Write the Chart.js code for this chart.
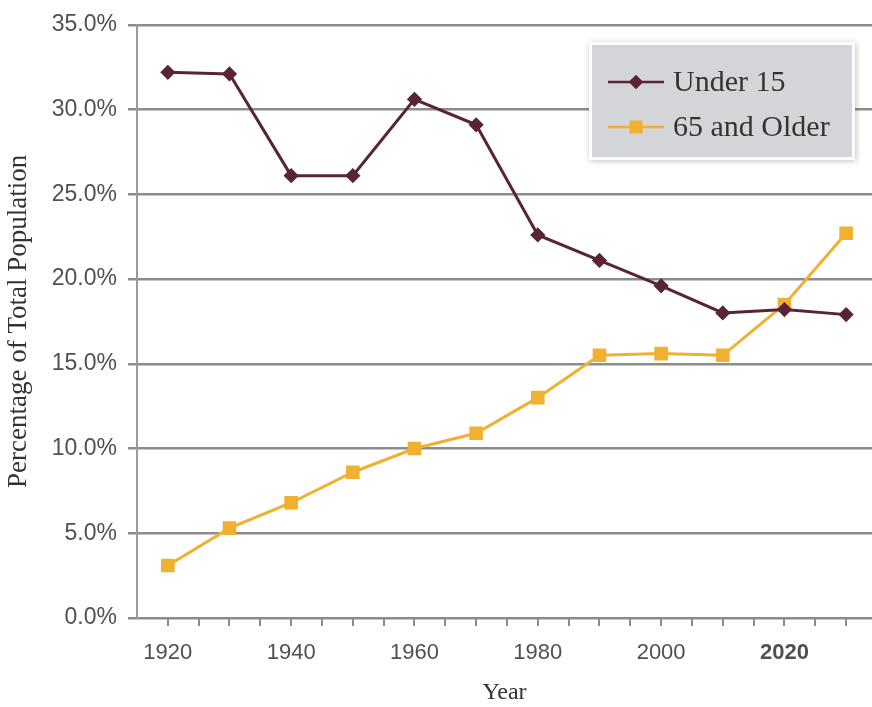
<!DOCTYPE html>
<html>

<head>
  <title>Population by Age Group</title>
  <script src="https://cdn.jsdelivr.net/npm/chart.js"></script>
  <style>
    body {
      margin: 0;
      background: #ffffff;
    }

    .chart-container {
      width: 872px;
      height: 707px;
    }
  </style>
</head>

<body>
  <div class="chart-container">
    <canvas id="chart" width="872" height="707"></canvas>
  </div>
  <script>
    const years = [1920, 1930, 1940, 1950, 1960, 1970, 1980, 1990, 2000, 2010, 2020, 2030];
    const under15 = [32.2, 32.1, 26.1, 26.1, 30.6, 29.1, 22.6, 21.1, 19.6, 18.0, 18.2, 17.9];
    const olderThan65 = [3.1, 5.3, 6.8, 8.6, 10.0, 10.9, 13.0, 15.5, 15.6, 15.5, 18.5, 22.7];
    const tickYears = [1920, 1925, 1930, 1935, 1940, 1945, 1950, 1955, 1960, 1965, 1970, 1975,
      1980, 1985, 1990, 1995, 2000, 2005, 2010, 2015, 2020, 2025, 2030];
    const labelYears = [1920, 1940, 1960, 1980, 2000, 2020];
    const boldYear = 2020;

    const maroon = '#5a2438';
    const amber = '#f0b030';
    const serif = '"Liberation Serif", "DejaVu Serif", serif';
    const sans = '"Liberation Sans", Arial, sans-serif';

    // legend box drawn inside the plot, like the original
    const boxLegend = {
      id: 'boxLegend',
      afterDatasetsDraw(chart) {
        const ctx = chart.ctx;
        const x = 592, y = 45, w = 260, h = 112;
        ctx.save();
        ctx.shadowColor = 'rgba(0,0,0,0.25)';
        ctx.shadowBlur = 6;
        ctx.shadowOffsetX = 1;
        ctx.shadowOffsetY = 1;
        ctx.fillStyle = '#ffffff';
        ctx.fillRect(x - 3, y - 3, w + 6, h + 6);
        ctx.restore();
        ctx.save();
        ctx.fillStyle = '#d3d5d8';
        ctx.fillRect(x, y, w, h);
        ctx.font = '30px ' + serif;
        ctx.textBaseline = 'middle';
        chart.data.datasets.forEach((ds, i) => {
          const ly = y + 37 + i * 45;
          ctx.strokeStyle = ds.borderColor;
          ctx.lineWidth = 2.5;
          ctx.beginPath();
          ctx.moveTo(x + 16, ly);
          ctx.lineTo(x + 72, ly);
          ctx.stroke();
          Chart.helpers.drawPoint(ctx, {
            pointStyle: ds.pointStyle,
            radius: ds.pointRadius,
            borderWidth: 1
          }, x + 44, ly);
          ctx.fillStyle = ds.borderColor;
          ctx.fill();
          ctx.fillStyle = '#333333';
          ctx.fillText(ds.label, x + 81, ly + 1);
        });
        ctx.restore();
      }
    };

    new Chart(document.getElementById('chart'), {
      type: 'line',
      data: {
        datasets: [{
          label: 'Under 15',
          data: years.map((yr, i) => ({ x: yr, y: under15[i] })),
          borderColor: maroon,
          backgroundColor: maroon,
          borderWidth: 3,
          pointStyle: 'rectRot',
          pointRadius: 5.5,
          pointBackgroundColor: maroon,
          pointBorderColor: maroon,
          tension: 0
        }, {
          label: '65 and Older',
          data: years.map((yr, i) => ({ x: yr, y: olderThan65[i] })),
          borderColor: amber,
          backgroundColor: amber,
          borderWidth: 3,
          pointStyle: 'rect',
          pointRadius: 7.5,
          pointBackgroundColor: amber,
          pointBorderColor: amber,
          tension: 0
        }]
      },
      options: {
        responsive: false,
        animation: false,
        layout: {
          autoPadding: false,
          padding: { top: 23, right: 0, bottom: 0, left: 0 }
        },
        plugins: {
          legend: { display: false },
          tooltip: { enabled: false }
        },
        scales: {
          x: {
            type: 'linear',
            min: 1915,
            max: 2034.2,
            afterBuildTicks: scale => {
              scale.ticks = tickYears.map(v => ({ value: v }));
            },
            afterFit: scale => {
              scale.height = 89;
              scale.paddingLeft = 0;
              scale.paddingRight = 0;
            },
            ticks: {
              autoSkip: false,
              maxRotation: 0,
              padding: 14,
              color: '#505050',
              font: ctx => ({
                family: sans,
                size: 22,
                weight: ctx.tick && ctx.tick.value === boldYear ? 'bold' : 'normal'
              }),
              callback: value => labelYears.includes(value) ? String(value) : ''
            },
            grid: {
              drawOnChartArea: false,
              drawTicks: true,
              tickLength: 8,
              color: '#8c8c8c',
              lineWidth: 2
            },
            border: {
              color: '#8c8c8c',
              width: 2
            },
            title: {
              display: true,
              text: 'Year',
              color: '#333333',
              font: { family: serif, size: 24 },
              padding: { top: 0, bottom: 0 }
            }
          },
          y: {
            min: 0,
            max: 35,
            afterFit: scale => {
              scale.width = 137;
            },
            ticks: {
              stepSize: 5,
              padding: 11,
              color: '#505050',
              font: { family: sans, size: 23 },
              callback: value => value.toFixed(1) + '%'
            },
            grid: {
              color: '#8c8c8c',
              lineWidth: 2.5,
              tickLength: 9
            },
            border: {
              color: '#9a9a9a',
              width: 2
            },
            title: {
              display: true,
              text: 'Percentage of Total Population',
              color: '#333333',
              font: { family: serif, size: 27 },
              padding: { top: 3, bottom: 0 }
            }
          }
        }
      },
      plugins: [boxLegend]
    });
  </script>
</body>

</html>
